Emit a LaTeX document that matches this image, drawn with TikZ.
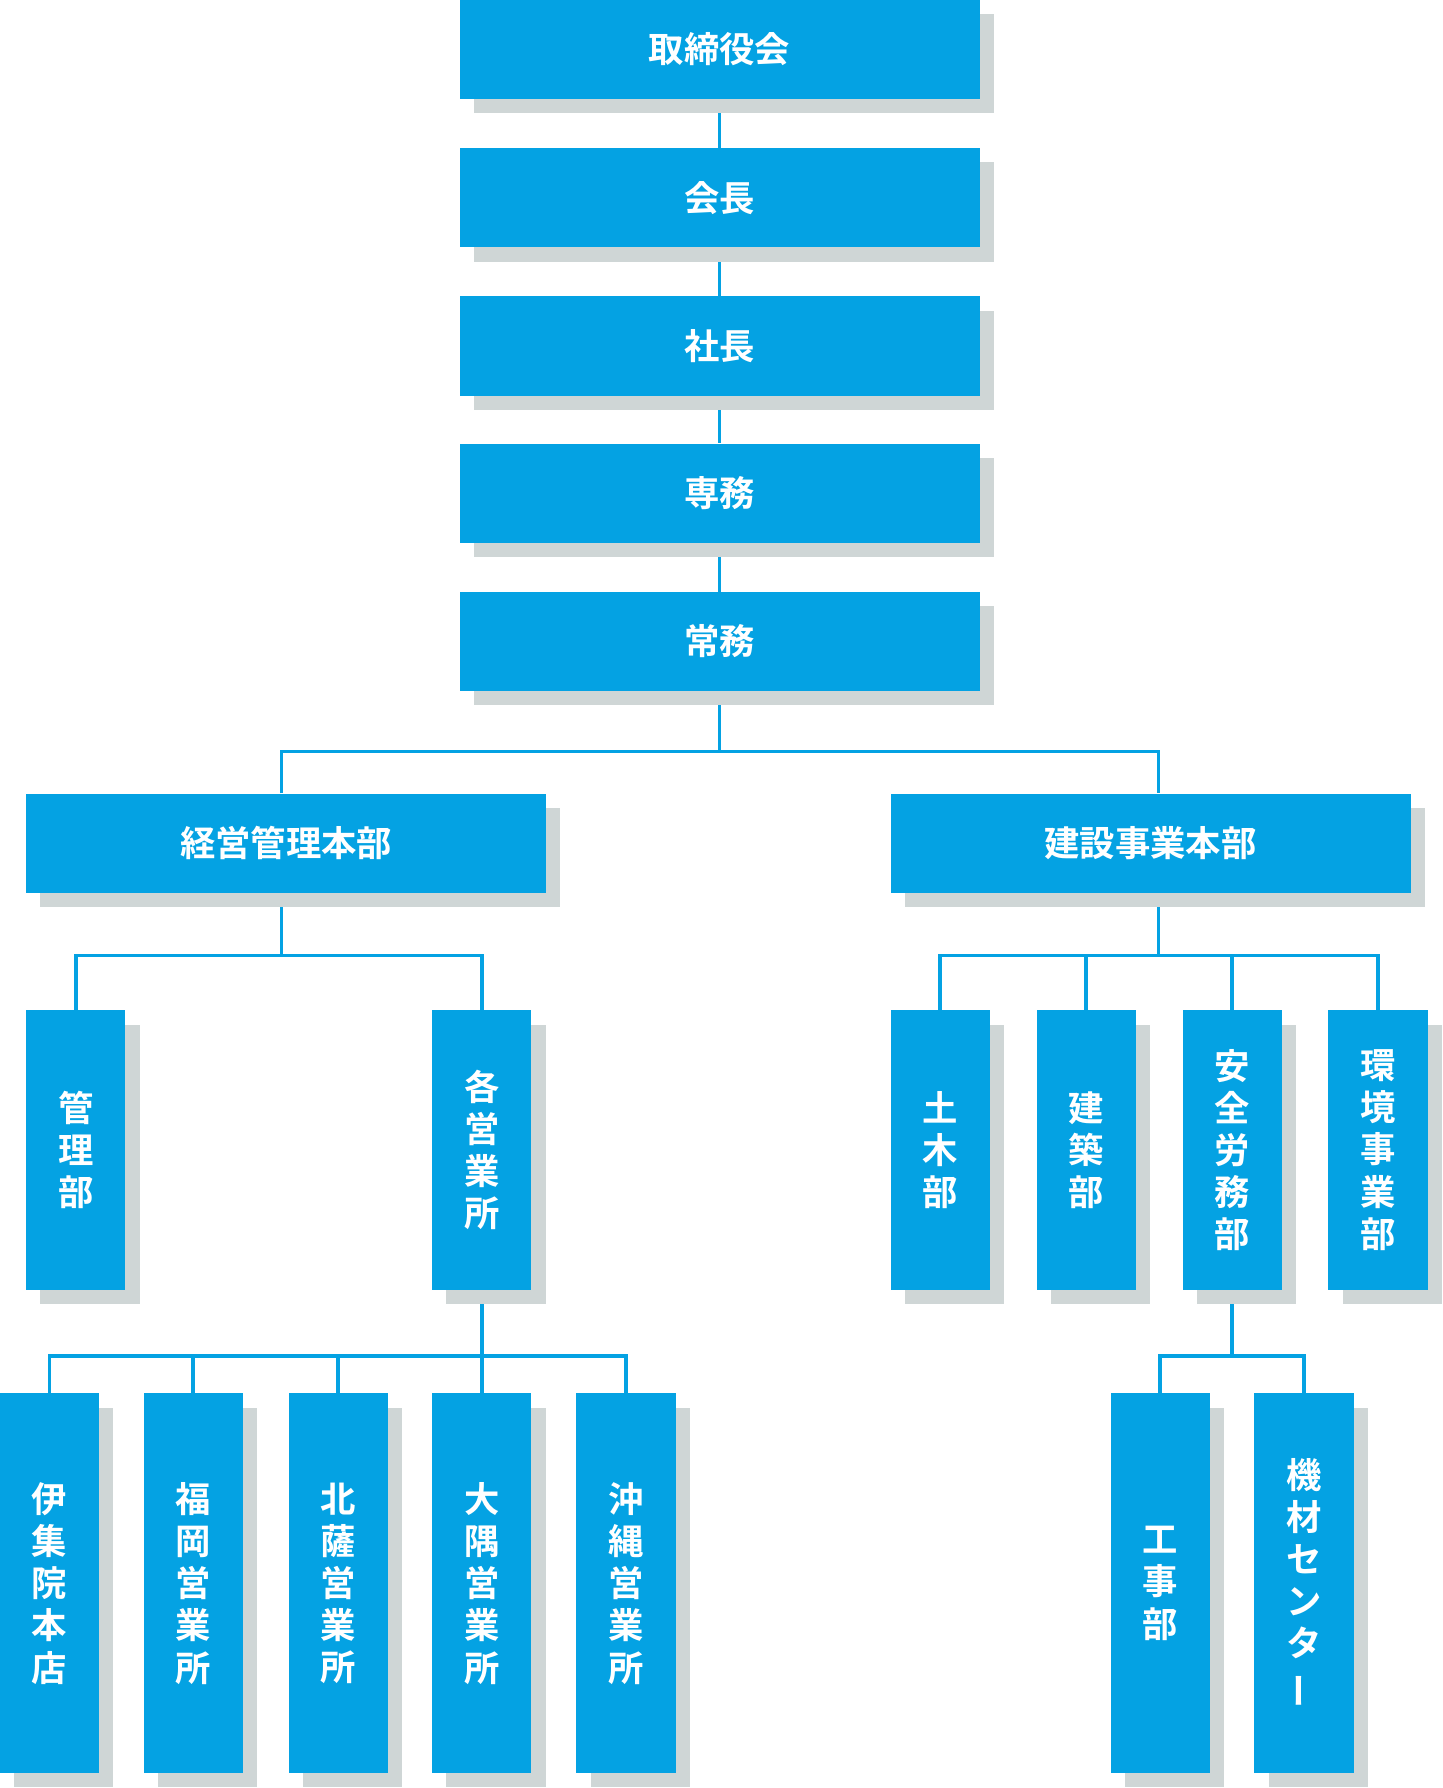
\documentclass[tikz,border=0pt]{standalone}
\usepackage{fontspec}
\setmainfont{Noto Sans CJK JP}[BoldFont={Noto Sans CJK JP Bold}]
\usetikzlibrary{shadows,backgrounds}
\definecolor{orgblue}{RGB}{4,162,227}
\definecolor{orggray}{RGB}{207,214,214}
\tikzset{
  orgbox/.style={fill=orgblue, draw=none, inner sep=0pt, text=white,
    font=\fontsize{31}{37}\selectfont\bfseries, align=center,
    drop shadow={shadow xshift=12.5pt, shadow yshift=-12.5pt, fill=orggray, opacity=1}},
  widebox/.style={orgbox, minimum width=456pt, minimum height=87pt},
  tallbox/.style={orgbox, minimum width=87pt, minimum height=245pt},
  tallerbox/.style={orgbox, minimum width=87pt, minimum height=333pt},
  link/.style={draw=orgblue, line width=3.2pt}
}
\newcommand{\vbar}{\rotatebox[origin=c]{90}{ー}}
\begin{document}
\begin{tikzpicture}[x=1pt,y=-1pt]
\useasboundingbox (0,0) rectangle (1265,1568);
% top chain
\node[widebox] (t1) at (631,43.5) {取締役会};
\node[widebox] (t2) at (631,173.5) {会長};
\node[widebox] (t3) at (631,303.5) {社長};
\node[widebox] (t4) at (631,432.5) {専務};
\node[widebox] (t5) at (631,562.5) {常務};
% level 2
\node[widebox] (kei) at (251,739.5) {経営管理本部};
\node[widebox] (ken) at (1009,739.5) {建設事業本部};
% level 3
\node[tallbox] (kanri) at (66.5,1008.5) {管\\理\\部};
\node[tallbox] (kaku) at (422.5,1008.5) {各\\営\\業\\所};
\node[tallbox] (doboku) at (824.5,1008.5) {土\\木\\部};
\node[tallbox] (kenchiku) at (952.5,1008.5) {建\\築\\部};
\node[tallbox] (anzen) at (1080.5,1008.5) {安\\全\\労\\務\\部};
\node[tallbox] (kankyo) at (1208.5,1008.5) {環\\境\\事\\業\\部};
% level 4
\node[tallerbox] (ijuin) at (43.5,1388.5) {伊\\集\\院\\本\\店};
\node[tallerbox] (fukuoka) at (169.5,1388.5) {福\\岡\\営\\業\\所};
\node[tallerbox] (hokusatsu) at (296.5,1388.5) {北\\薩\\営\\業\\所};
\node[tallerbox] (osumi) at (422.5,1388.5) {大\\隅\\営\\業\\所};
\node[tallerbox] (okinawa) at (549,1388.5) {沖\\縄\\営\\業\\所};
\node[tallerbox] (koji) at (1017.5,1388.5) {工\\事\\部};
\node[tallerbox] (kizai) at (1143.5,1388.5) {機\\材\\セ\\ン\\タ\\\vbar};
% junctions
\coordinate (j1) at (631,659);
\coordinate (j2) at (247,838);
\coordinate (j3) at (422.5,1189);
\coordinate (j4) at (1016,838);
\coordinate (j5) at (1080.5,1189);
\begin{scope}[on background layer]
\fill[white] (0,0) rectangle (1265,1568);
\draw[link] (t1.south) -- (t2.north);
\draw[link] (t2.south) -- (t3.north);
\draw[link] (t3.south) -- (t4.north);
\draw[link] (t4.south) -- (t5.north);
\draw[link] (t5.south) -- (j1);
\draw[link] ([xshift=-4pt]kei.north) |- (j1) -| ([xshift=7pt]ken.north);
\draw[link] ([xshift=-4pt]kei.south) -- (j2);
\draw[link] (kanri.north) |- (j2) -| (kaku.north);
\draw[link] (kaku.south) -- (j3);
\draw[link] (ijuin.north) |- (j3);
\draw[link] (fukuoka.north) |- (j3);
\draw[link] (hokusatsu.north) |- (j3);
\draw[link] (osumi.north) -- (j3);
\draw[link] (okinawa.north) |- (j3);
\draw[link] ([xshift=7pt]ken.south) -- (j4);
\draw[link] (doboku.north) |- (j4);
\draw[link] (kenchiku.north) |- (j4);
\draw[link] (anzen.north) |- (j4);
\draw[link] (kankyo.north) |- (j4);
\draw[link] (anzen.south) -- (j5);
\draw[link] (koji.north) |- (j5);
\draw[link] (kizai.north) |- (j5);
\end{scope}
\end{tikzpicture}
\end{document}
